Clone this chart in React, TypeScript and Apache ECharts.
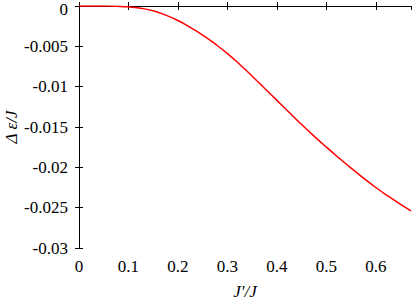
import React, { useEffect, useRef } from "react";
import * as echarts from "echarts";

const xValues = [0, 0.025, 0.05, 0.075, 0.1, 0.125, 0.15, 0.175, 0.2, 0.225, 0.25, 0.275, 0.3, 0.325, 0.35, 0.375, 0.4, 0.425, 0.45, 0.475, 0.5, 0.525, 0.55, 0.575, 0.6, 0.625, 0.65, 0.671];
const yValues = [0, -0.000001, -0.00001, -0.00004, -0.0001, -0.00028, -0.0006, -0.00112, -0.0018, -0.00265, -0.0036, -0.0047, -0.0059, -0.00725, -0.0087, -0.0102, -0.0117, -0.0132, -0.0147, -0.01613, -0.0175, -0.01882, -0.0201, -0.02133, -0.0225, -0.02358, -0.0246, -0.0254];
const xTickLabels = ["0", "0.1", "0.2", "0.3", "0.4", "0.5", "0.6"];
const yTickLabels = ["0", "-0.005", "-0.01", "-0.015", "-0.02", "-0.025", "-0.03"];

const FONT = "Liberation Serif, Times New Roman, Times, serif";

export default function App() {
  const ref = useRef<HTMLDivElement>(null);
  useEffect(() => {
    if (!ref.current) return;
    const chart = echarts.init(ref.current, undefined, { renderer: "svg" });
    const axisLine = { show: true, lineStyle: { color: "#000", width: 1 } };
    const axisTick = { show: true, inside: true, length: 4, lineStyle: { color: "#000", width: 1 } };
    const fmtX = (v: number) => {
      const s = String(parseFloat(v.toFixed(4)));
      return xTickLabels.includes(s) ? s : "";
    };
    const fmtY = (v: number) => {
      const s = String(parseFloat(v.toFixed(4)));
      if (!yTickLabels.includes(s)) return "";
      return s === yTickLabels[0] ? "{top|" + s + "}" : s;
    };
    chart.setOption({
      animation: false,
      backgroundColor: "#fff",
      textStyle: { fontFamily: FONT },
      grid: { left: 79, right: 4, top: 6, bottom: 51, containLabel: false, outerBoundsMode: "none" },
      xAxis: [
        {
          type: "value",
          min: 0,
          max: 0.671,
          interval: 0.1,
          position: "bottom",
          axisLine,
          axisTick,
          splitLine: { show: false },
          axisLabel: { show: true, showMaxLabel: false, formatter: fmtX, color: "#000", fontFamily: FONT, fontSize: 17, margin: 10 },
          name: "J'/J",
          nameLocation: "middle",
          nameGap: 43,
          nameMoveOverlap: false,
          nameTextStyle: { color: "#000", fontFamily: FONT, fontSize: 17, fontStyle: "italic", verticalAlign: "middle" },
        },
        {
          type: "value",
          min: 0,
          max: 0.671,
          interval: 0.1,
          position: "top",
          axisLine,
          axisTick,
          splitLine: { show: false },
          axisLabel: { show: false },
        },
      ],
      yAxis: [
        {
          type: "value",
          min: -0.03,
          max: 0,
          interval: 0.005,
          position: "left",
          axisLine,
          axisTick,
          splitLine: { show: false },
          axisLabel: {
            show: true,
            formatter: fmtY,
            color: "#000",
            fontFamily: FONT,
            fontSize: 17,
            margin: 11,
            rich: { top: { color: "#000", fontFamily: FONT, fontSize: 17, padding: [7, 0, 0, 0] } },
          },
          name: "Δ ε/J",
          nameLocation: "middle",
          nameGap: 68,
          nameMoveOverlap: false,
          nameRotate: 90,
          nameTextStyle: { color: "#000", fontFamily: FONT, fontSize: 17, fontStyle: "italic", verticalAlign: "middle" },
        },
        {
          type: "value",
          min: -0.03,
          max: 0,
          interval: 0.005,
          position: "right",
          axisLine,
          axisTick,
          splitLine: { show: false },
          axisLabel: { show: false },
        },
      ],
      series: [
        {
          type: "line",
          xAxisIndex: 0,
          yAxisIndex: 0,
          data: xValues.map((x, i) => [x, yValues[i]]),
          showSymbol: false,
          symbol: "none",
          smooth: true,
          lineStyle: { color: "#ff0000", width: 1.5 },
        },
      ],
    });
    return () => chart.dispose();
  }, []);
  return <div ref={ref} style={{ position: "absolute", left: 0, top: 0, width: 415, height: 299 }} />;
}
